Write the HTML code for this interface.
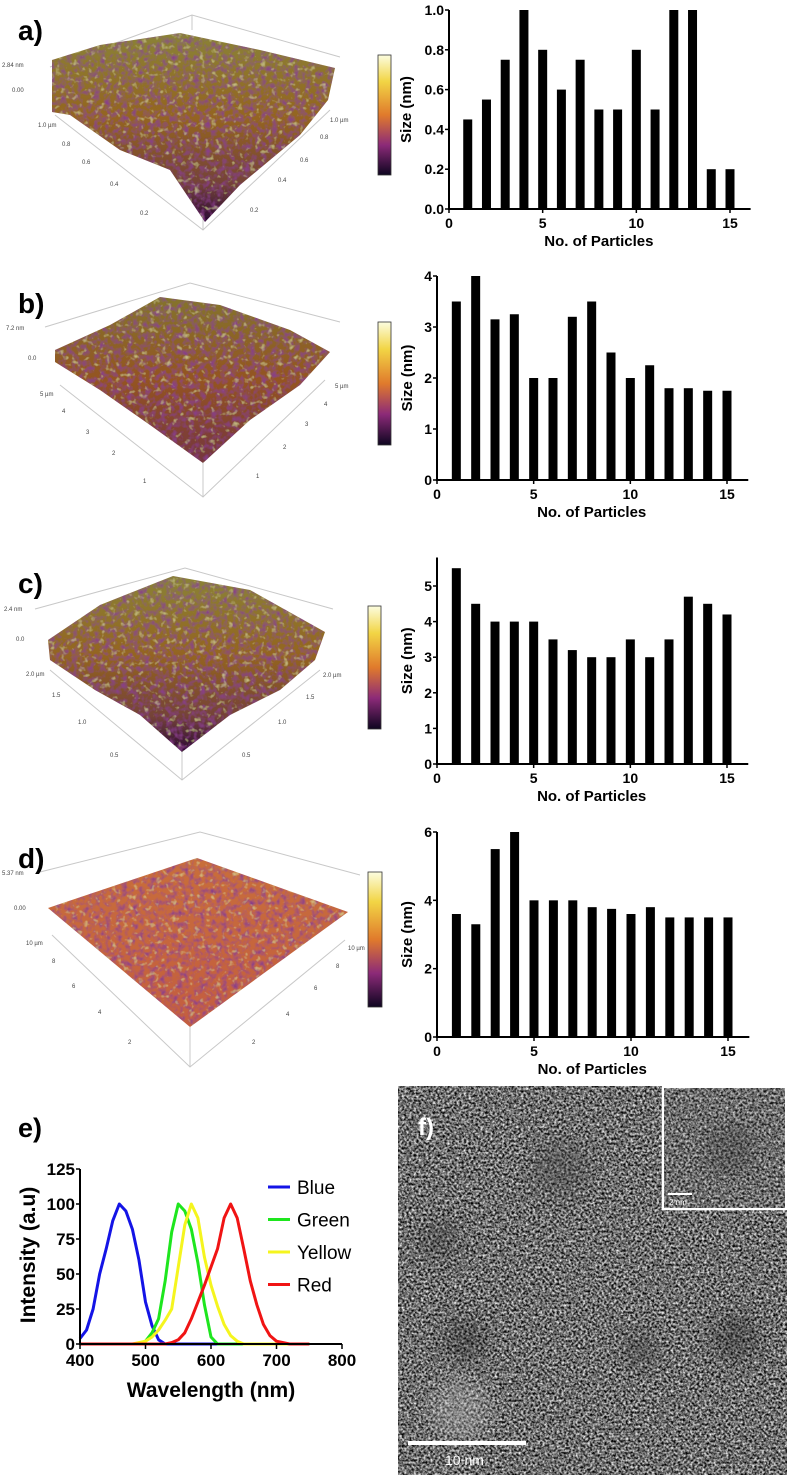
<!DOCTYPE html>
<html><head><meta charset="utf-8"><style>
html,body{margin:0;padding:0;background:#fff;}
svg{display:block;font-family:"Liberation Sans",Arial,sans-serif;}
</style></head><body>
<svg id="fig" width="792" height="1477" viewBox="0 0 792 1477">
<defs>
<filter id="tex" x="0" y="0" width="1" height="1">
 <feTurbulence type="fractalNoise" baseFrequency="0.18" numOctaves="2" seed="4" result="n"/>
 <feColorMatrix in="n" type="matrix" values="0 0 0 0 0.25  0 0 0 0 0.05  0 0 0 0 0.25  2.2 0 0 0 -0.95" result="d"/>
 <feComposite in="d" in2="SourceGraphic" operator="in" result="dm"/>
 <feColorMatrix in="n" type="matrix" values="0 0 0 0 0.7  0 0 0 0 0.68  0 0 0 0 0.3  0 2.2 0 0 -1.3" result="l"/>
 <feComposite in="l" in2="SourceGraphic" operator="in" result="lm"/>
 <feMerge><feMergeNode in="SourceGraphic"/><feMergeNode in="dm"/><feMergeNode in="lm"/></feMerge>
</filter>
<filter id="tem" x="0" y="0" width="1" height="1" color-interpolation-filters="sRGB">
 <feTurbulence type="fractalNoise" baseFrequency="0.42" numOctaves="2" seed="7" result="n"/>
 <feColorMatrix in="n" type="matrix" values="1.6 0 0 0 -0.37  1.6 0 0 0 -0.37  1.6 0 0 0 -0.37  0 0 0 0 1"/>
</filter>
<filter id="blur6"><feGaussianBlur stdDeviation="9"/></filter>
<linearGradient id="cbar" x1="0" y1="0" x2="0" y2="1">
 <stop offset="0" stop-color="#fcfde0"/><stop offset="0.22" stop-color="#f2d545"/>
 <stop offset="0.5" stop-color="#e07a2c"/><stop offset="0.75" stop-color="#8c2a78"/>
 <stop offset="1" stop-color="#0e0520"/></linearGradient>
<linearGradient id="surfA" x1="0" y1="0" x2="0" y2="1">
 <stop offset="0" stop-color="#8a8236"/><stop offset="0.45" stop-color="#946420"/>
 <stop offset="0.8" stop-color="#744238"/><stop offset="1" stop-color="#2a0a35"/></linearGradient>
<linearGradient id="surfB" x1="0" y1="0" x2="0" y2="1">
 <stop offset="0" stop-color="#84742c"/><stop offset="0.5" stop-color="#945422"/>
 <stop offset="1" stop-color="#74363e"/></linearGradient>
<linearGradient id="surfD" x1="0" y1="0" x2="0" y2="1">
 <stop offset="0" stop-color="#c86e3a"/><stop offset="1" stop-color="#c35e40"/></linearGradient>
</defs>

<!-- ===== 3D AFM panels ===== -->
<g>
 <polyline points="50,67 192,15 340,57" fill="none" stroke="#c8c8c8" stroke-width="1"/>
 <polyline points="55,115 203,230 330,110" fill="none" stroke="#c8c8c8" stroke-width="1"/>
 <line x1="192" y1="15" x2="192" y2="30" stroke="#c8c8c8"/>
 <line x1="203" y1="175" x2="203" y2="230" stroke="#c8c8c8"/>
 <polygon points="52,60 100,45 180,33 260,50 335,68 328,100 300,135 240,185 205,222 170,170 120,150 70,115 52,112" fill="url(#surfA)" filter="url(#tex)"/>
 <text x="18" y="40" font-size="28" font-weight="bold">a)</text>
 <text x="2" y="67" font-size="6" fill="#444">2.84 nm</text><text x="12" y="92" font-size="6" fill="#444">0.00</text>
 <text x="38" y="127" font-size="6" fill="#444">1.0 µm</text><text x="62" y="146" font-size="6" fill="#444">0.8</text>
 <text x="82" y="164" font-size="6" fill="#444">0.6</text><text x="110" y="186" font-size="6" fill="#444">0.4</text>
 <text x="140" y="215" font-size="6" fill="#444">0.2</text><text x="330" y="122" font-size="6" fill="#444">1.0 µm</text>
 <text x="320" y="139" font-size="6" fill="#444">0.8</text><text x="300" y="162" font-size="6" fill="#444">0.6</text>
 <text x="278" y="182" font-size="6" fill="#444">0.4</text><text x="250" y="212" font-size="6" fill="#444">0.2</text>
 <rect x="378" y="55" width="13" height="120" fill="url(#cbar)" stroke="#333" stroke-width="0.8"/>
</g>

<g>
 <polyline points="45,327 190,283 340,322" fill="none" stroke="#c8c8c8"/>
 <polyline points="60,385 203,497 325,380" fill="none" stroke="#c8c8c8"/>
 <line x1="203" y1="460" x2="203" y2="497" stroke="#c8c8c8"/>
 <polygon points="55,350 110,325 160,297 220,305 290,330 330,352 300,385 250,420 203,463 150,425 100,390 55,362" fill="url(#surfB)" filter="url(#tex)"/>
 <text x="18" y="313" font-size="28" font-weight="bold">b)</text>
 <text x="6" y="330" font-size="6" fill="#444">7.2 nm</text><text x="28" y="360" font-size="6" fill="#444">0.0</text>
 <text x="40" y="396" font-size="6" fill="#444">5 µm</text><text x="62" y="413" font-size="6" fill="#444">4</text>
 <text x="86" y="434" font-size="6" fill="#444">3</text><text x="112" y="455" font-size="6" fill="#444">2</text>
 <text x="143" y="483" font-size="6" fill="#444">1</text><text x="335" y="388" font-size="6" fill="#444">5 µm</text>
 <text x="324" y="406" font-size="6" fill="#444">4</text><text x="305" y="426" font-size="6" fill="#444">3</text>
 <text x="283" y="449" font-size="6" fill="#444">2</text><text x="256" y="478" font-size="6" fill="#444">1</text>
 <rect x="378" y="322" width="13" height="123" fill="url(#cbar)" stroke="#333" stroke-width="0.8"/>
</g>

<g>
 <polyline points="35,609 185,568 333,609" fill="none" stroke="#c8c8c8"/>
 <polyline points="50,670 182,780 320,670" fill="none" stroke="#c8c8c8"/>
 <line x1="182" y1="750" x2="182" y2="780" stroke="#c8c8c8"/>
 <polygon points="48,640 100,605 173,576 250,590 325,632 315,660 280,690 230,715 182,752 140,715 95,690 50,660" fill="url(#surfA)" filter="url(#tex)"/>
 <text x="18" y="593" font-size="28" font-weight="bold">c)</text>
 <text x="4" y="611" font-size="6" fill="#444">2.4 nm</text><text x="16" y="641" font-size="6" fill="#444">0.0</text>
 <text x="26" y="676" font-size="6" fill="#444">2.0 µm</text><text x="52" y="697" font-size="6" fill="#444">1.5</text>
 <text x="78" y="724" font-size="6" fill="#444">1.0</text><text x="110" y="757" font-size="6" fill="#444">0.5</text>
 <text x="323" y="677" font-size="6" fill="#444">2.0 µm</text><text x="306" y="699" font-size="6" fill="#444">1.5</text>
 <text x="278" y="724" font-size="6" fill="#444">1.0</text><text x="242" y="757" font-size="6" fill="#444">0.5</text>
 <rect x="368" y="606" width="13" height="123" fill="url(#cbar)" stroke="#333" stroke-width="0.8"/>
</g>

<g>
 <polyline points="40,872 200,832 360,875" fill="none" stroke="#c8c8c8"/>
 <polyline points="52,935 190,1067 345,940" fill="none" stroke="#c8c8c8"/>
 <line x1="190" y1="1027" x2="190" y2="1067" stroke="#c8c8c8"/>
 <polygon points="48,908 197,858 348,912 190,1027" fill="url(#surfD)" filter="url(#tex)"/>
 <text x="18" y="868" font-size="28" font-weight="bold">d)</text>
 <text x="2" y="875" font-size="6" fill="#444">5.37 nm</text><text x="14" y="910" font-size="6" fill="#444">0.00</text>
 <text x="26" y="945" font-size="6" fill="#444">10 µm</text><text x="52" y="963" font-size="6" fill="#444">8</text>
 <text x="72" y="988" font-size="6" fill="#444">6</text><text x="98" y="1014" font-size="6" fill="#444">4</text>
 <text x="128" y="1044" font-size="6" fill="#444">2</text><text x="348" y="950" font-size="6" fill="#444">10 µm</text>
 <text x="336" y="968" font-size="6" fill="#444">8</text><text x="314" y="990" font-size="6" fill="#444">6</text>
 <text x="286" y="1016" font-size="6" fill="#444">4</text><text x="252" y="1044" font-size="6" fill="#444">2</text>
 <rect x="368" y="872" width="14" height="135" fill="url(#cbar)" stroke="#333" stroke-width="0.8"/>
</g>

<!-- ===== TEM panel f ===== -->
<g>
 <rect x="398" y="1086" width="389" height="389" fill="#777" filter="url(#tem)"/>
 <g filter="url(#blur6)" opacity="0.35">
  <circle cx="465" cy="1340" r="22" fill="#222"/><circle cx="735" cy="1338" r="24" fill="#222"/>
  <circle cx="640" cy="1350" r="18" fill="#333"/><circle cx="440" cy="1240" r="20" fill="#333"/>
  <circle cx="460" cy="1410" r="30" fill="#bbb"/><circle cx="560" cy="1170" r="30" fill="#444"/>
 </g>
 <rect x="663" y="1087" width="123" height="122" fill="#6a6a6a" stroke="#fff" stroke-width="2.5"/>
 <rect x="664" y="1088" width="121" height="120" fill="#777" filter="url(#tem)" opacity="0.85"/>
 <circle cx="730" cy="1150" r="25" fill="#333" opacity="0.3" filter="url(#blur6)"/>
 <line x1="668" y1="1194" x2="692" y2="1194" stroke="#fff" stroke-width="2"/>
 <text x="669" y="1205" font-size="8" fill="#fff">2 nm</text>
 <text x="418" y="1135" font-size="24" font-weight="bold" fill="#fff">f)</text>
 <line x1="408" y1="1443" x2="526" y2="1443" stroke="#fff" stroke-width="4"/>
 <text x="445" y="1465" font-size="14" fill="#fff">10 nm</text>
</g>

<g id="bars"></g>
<g id="spec"></g>
</svg>
<script>
const NS="http://www.w3.org/2000/svg";
// ---- bar chart data ----
const particles=[1,2,3,4,5,6,7,8,9,10,11,12,13,14,15];
const sizeA=[0.45,0.55,0.75,1.0,0.8,0.6,0.75,0.5,0.5,0.8,0.5,1.0,1.0,0.2,0.2];
const sizeB=[3.5,4,3.15,3.25,2,2,3.2,3.5,2.5,2,2.25,1.8,1.8,1.75,1.75];
const sizeC=[5.5,4.5,4,4,4,3.5,3.2,3,3,3.5,3,3.5,4.7,4.5,4.2];
const sizeD=[3.6,3.3,5.5,6,4,4,4,3.8,3.75,3.6,3.8,3.5,3.5,3.5,3.5];
const xTicks=[0,5,10,15];
const yTicksA=[0,0.2,0.4,0.6,0.8,1.0];
const yTicksB=[0,1,2,3,4];
const yTicksC=[0,1,2,3,4,5];
const yTicksD=[0,2,4,6];
// ---- spectrum data ----
const wavelength=[400,410,420,430,440,450,460,470,480,490,500,510,520,530,540,550,560,570,580,590,600,610,620,630,640,650,660,670,680,690,700,710,720,730,740,750];
const blue  =[4,10,25,50,68,88,100,95,82,60,30,13,3,0,0,0,0,0,0,0,0,0,0,0,0,0,0,0,0,0,0,0,0,0,0,0];
const green =[0,0,0,0,0,0,0,0,0,0,2,8,18,45,80,100,95,82,58,28,5,0,0,0,0,0,0,0,0,0,0,0,0,0,0,0];
const yellow=[0,0,0,0,0,0,0,0,0,1,2,5,10,17,25,55,85,100,90,62,42,27,14,6,2,0,0,0,0,0,0,0,0,0,0,0];
const red   =[0,0,0,0,0,0,0,0,0,0,0,0,0,0,1,3,8,18,30,42,55,68,90,100,90,68,45,28,14,6,2,1,0,0,0,0];
const specXTicks=[400,500,600,700,800];
const specYTicks=[0,25,50,75,100,125];
const seriesNames=["Blue","Green","Yellow","Red"];

function mk(tag,attrs,parent,txt){const e=document.createElementNS(NS,tag);for(const k in attrs)e.setAttribute(k,attrs[k]);if(txt!==undefined)e.textContent=txt;parent.appendChild(e);return e;}

function barChart(id,vals,yTicks,cfg){
  const g=mk("g",{},document.getElementById("bars"));
  
  
  const xs=v=>cfg.ax+(v/15)*(cfg.x15-cfg.ax);
  const tmax=yTicks[yTicks.length-1];
  const ys=v=>cfg.y0-(v/tmax)*(cfg.y0-cfg.yT);
  particles.forEach((p,i)=>{
    const r=mk("rect",{x:xs(p)-4.5,y:ys(vals[i]),width:9,height:cfg.y0-ys(vals[i]),fill:"#000"},g);
    
    
  });
  const ya=mk("line",{x1:cfg.ax,y1:cfg.y0+1,x2:cfg.ax,y2:ys(cfg.ytop),stroke:"#000","stroke-width":2},g);
  
  
  const xa=mk("line",{x1:cfg.ax-1,y1:cfg.y0,x2:xs(16.1),y2:cfg.y0,stroke:"#000","stroke-width":2},g);
  
  
  yTicks.forEach(t=>{
    mk("line",{x1:cfg.ax-4,y1:ys(t),x2:cfg.ax,y2:ys(t),stroke:"#000","stroke-width":1.5},g);
    const l=mk("text",{x:cfg.ax-5,y:ys(t)+5,"font-size":14,"font-weight":"bold","text-anchor":"end"},g,cfg.fmt?t.toFixed(1):String(t));
    
    
  });
  xTicks.forEach(t=>{
    mk("line",{x1:xs(t),y1:cfg.y0,x2:xs(t),y2:cfg.y0+4,stroke:"#000","stroke-width":1.5},g);
    const l=mk("text",{x:xs(t),y:cfg.y0+19,"font-size":14,"font-weight":"bold","text-anchor":"middle"},g,String(t));
    
    
  });
  const xt=mk("text",{x:(cfg.ax+xs(16))/2,y:cfg.y0+37,"font-size":15,"font-weight":"bold","text-anchor":"middle"},g,"No. of Particles");
  
  
  const cy=(cfg.y0+ys(cfg.ytop))/2;
  const yt=mk("text",{x:0,y:0,"font-size":15,"font-weight":"bold","text-anchor":"middle",transform:`translate(${cfg.ax-cfg.tOff},${cy}) rotate(-90)`},g,"Size (nm)");
  
  
}
barChart("a",sizeA,yTicksA,{ax:449,x15:730,y0:209,yT:10,ytop:1.0,fmt:true,tOff:38});
barChart("b",sizeB,yTicksB,{ax:437,x15:727,y0:480,yT:276,ytop:4,tOff:25});
barChart("c",sizeC,yTicksC,{ax:437,x15:727,y0:764,yT:586,ytop:5.8,tOff:25});
barChart("d",sizeD,yTicksD,{ax:437,x15:728,y0:1037,yT:832,ytop:6,tOff:25});

// ---- spectrum chart ----
(function(){
  const g=document.getElementById("spec");
  
  
  const ax=80,xR=342,y0=1344,yT=1169;
  const xs=v=>ax+(v-400)/400*(xR-ax);
  const ys=v=>y0-v/125*(y0-yT);
  const lab=mk("text",{x:18,y:1137,"font-size":27,"font-weight":"bold"},g,"e)");
  
  
  const cols=["#1414e6","#1ee61e","#f5f51e","#f01414"];
  [blue,green,yellow,red].forEach((s,k)=>{
    const pts=wavelength.map((w,i)=>xs(w)+","+ys(s[i])).join(" ");
    const pl=mk("polyline",{points:pts,fill:"none",stroke:cols[k],"stroke-width":3,"stroke-linejoin":"round"},g);
    
    
    const ly=1187+k*32.5;
    const lg=mk("g",{},g);
    
    
    mk("line",{x1:268,y1:ly,x2:290,y2:ly,stroke:cols[k],"stroke-width":3},lg);
    mk("text",{x:297,y:ly+7,"font-size":19},lg,seriesNames[k]);
  });
  const ya=mk("line",{x1:ax,y1:y0+1,x2:ax,y2:yT,stroke:"#000","stroke-width":2},g);
  
  
  const xa=mk("line",{x1:ax-1,y1:y0,x2:xR,y2:y0,stroke:"#000","stroke-width":2},g);
  
  
  specYTicks.forEach(t=>{
    mk("line",{x1:ax-4,y1:ys(t),x2:ax,y2:ys(t),stroke:"#000","stroke-width":1.5},g);
    const l=mk("text",{x:ax-5,y:ys(t)+6,"font-size":17,"font-weight":"bold","text-anchor":"end"},g,String(t));
    
    
  });
  specXTicks.forEach(t=>{
    mk("line",{x1:xs(t),y1:y0,x2:xs(t),y2:y0+5,stroke:"#000","stroke-width":1.5},g);
    const l=mk("text",{x:xs(t),y:y0+22,"font-size":17,"font-weight":"bold","text-anchor":"middle"},g,String(t));
    
    
  });
  const xt=mk("text",{x:(ax+xR)/2,y:1397,"font-size":21,"font-weight":"bold","text-anchor":"middle"},g,"Wavelength (nm)");
  
  
  const yt=mk("text",{x:0,y:0,"font-size":21,"font-weight":"bold","text-anchor":"middle",transform:"translate(35,1255) rotate(-90)"},g,"Intensity (a.u)");
  
  
})();
</script>
</body></html>
